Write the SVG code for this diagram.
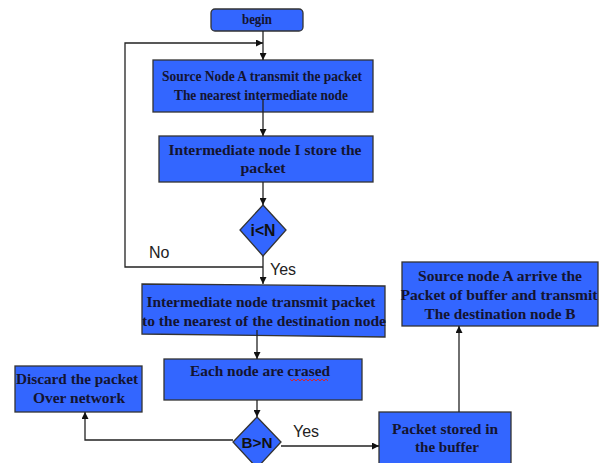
<svg xmlns="http://www.w3.org/2000/svg" width="605" height="463" viewBox="0 0 605 463">
<defs>
<style>
.box{fill:#3366ff;stroke:#333;stroke-width:1.3}
.t{font-family:"Liberation Serif","Times New Roman",serif;font-weight:bold;font-size:15.5px;fill:#141430;text-anchor:middle}
.d{font-family:"Liberation Sans",Arial,sans-serif;font-weight:bold;fill:#111;text-anchor:middle}
.lbl{font-family:"Liberation Sans",Arial,sans-serif;font-size:16px;fill:#222}
.c{fill:none;stroke:#222;stroke-width:1.3}
</style>
<marker id="ah" viewBox="0 0 10 10" refX="10" refY="5" markerWidth="7" markerHeight="7" markerUnits="userSpaceOnUse" orient="auto">
<path d="M0,0 L10,5 L0,10 z" fill="#111"/>
</marker>
</defs>
<rect width="605" height="463" fill="#fff"/>

<g id="begin">
<rect class="box" x="211" y="9" width="92" height="22" rx="4"/>
<text class="t" x="257" y="24" textLength="30" lengthAdjust="spacingAndGlyphs">begin</text>
</g>

<g id="source">
<rect class="box" x="153" y="60" width="220" height="52"/>
<text class="t" x="262" y="81" textLength="200" lengthAdjust="spacingAndGlyphs">Source Node A transmit the packet</text>
<text class="t" x="261" y="100" textLength="174" lengthAdjust="spacingAndGlyphs">The nearest intermediate node</text>
</g>

<g id="store">
<rect class="box" x="159" y="136" width="214" height="46"/>
<text class="t" x="265" y="155" textLength="193" lengthAdjust="spacingAndGlyphs">Intermediate node I store the</text>
<text class="t" x="263" y="173" textLength="45" lengthAdjust="spacingAndGlyphs">packet</text>
</g>

<g id="cond1">
<polygon class="box" points="263,205 286,230 263,256 240,230"/>
<text class="d" x="263" y="236" font-size="16" textLength="25" lengthAdjust="spacingAndGlyphs">i&lt;N</text>
</g>

<g id="transmit">
<polygon class="box" points="142,284 385,286 385,337 142,334"/>
<text class="t" x="261" y="307" textLength="229" lengthAdjust="spacingAndGlyphs">Intermediate node transmit packet</text>
<text class="t" x="264" y="326" textLength="244" lengthAdjust="spacingAndGlyphs">to the nearest of the destination node</text>
</g>

<g id="erased">
<rect class="box" x="164" y="359" width="198" height="41"/>
<text class="t" x="260" y="376" textLength="140" lengthAdjust="spacingAndGlyphs">Each node are crased</text>
<path d="M290,379 l2,2 l2,-2 l2,2 l2,-2 l2,2 l2,-2 l2,2 l2,-2 l2,2 l2,-2 l2,2 l2,-2 l2,2 l2,-2 l2,2 l2,-2 l2,2 l2,-2 l2,2" fill="none" stroke="#e02020" stroke-width="0.9"/>
</g>

<g id="discard">
<rect class="box" x="15" y="366" width="127" height="46"/>
<text class="t" x="77" y="384" textLength="122" lengthAdjust="spacingAndGlyphs">Discard the packet</text>
<text class="t" x="79" y="403" textLength="92" lengthAdjust="spacingAndGlyphs">Over network</text>
</g>

<g id="cond2">
<polygon class="box" points="257,417 281,442 257,468 233,442"/>
<text class="d" x="257" y="448" font-size="14" textLength="31" lengthAdjust="spacingAndGlyphs">B&gt;N</text>
</g>

<g id="stored">
<rect class="box" x="379" y="412" width="132" height="60"/>
<text class="t" x="445" y="434" textLength="106" lengthAdjust="spacingAndGlyphs">Packet stored in</text>
<text class="t" x="447" y="452" textLength="64" lengthAdjust="spacingAndGlyphs">the buffer</text>
</g>

<g id="arrive">
<rect class="box" x="402" y="262" width="196" height="64"/>
<text class="t" x="500" y="281" textLength="164" lengthAdjust="spacingAndGlyphs">Source node A arrive the</text>
<text class="t" x="499" y="300" textLength="197" lengthAdjust="spacingAndGlyphs">Packet of buffer and transmit</text>
<text class="t" x="500" y="319" textLength="151" lengthAdjust="spacingAndGlyphs">The destination node B</text>
</g>

<g id="connectors">
<path class="c" d="M263,31 V60" marker-end="url(#ah)"/>
<path class="c" d="M263,267 H125 V43 H263" marker-end="url(#ah)"/>
<path class="c" d="M263,100 V136" marker-end="url(#ah)"/>
<path class="c" d="M263,182 V205" marker-end="url(#ah)"/>
<path class="c" d="M263,256 V284" marker-end="url(#ah)"/>
<path class="c" d="M257,330 V359" marker-end="url(#ah)"/>
<path class="c" d="M257,400 V417" marker-end="url(#ah)"/>
<path class="c" d="M233,440 H85 V412" marker-end="url(#ah)"/>
<path class="c" d="M281,446 H379" stroke="#444" marker-end="url(#ah)"/>
<path class="c" d="M459,412 V326" marker-end="url(#ah)"/>
<text class="lbl" x="149" y="258">No</text>
<text class="lbl" x="270" y="275">Yes</text>
<text class="lbl" x="293" y="437">Yes</text>
</g>
</svg>
